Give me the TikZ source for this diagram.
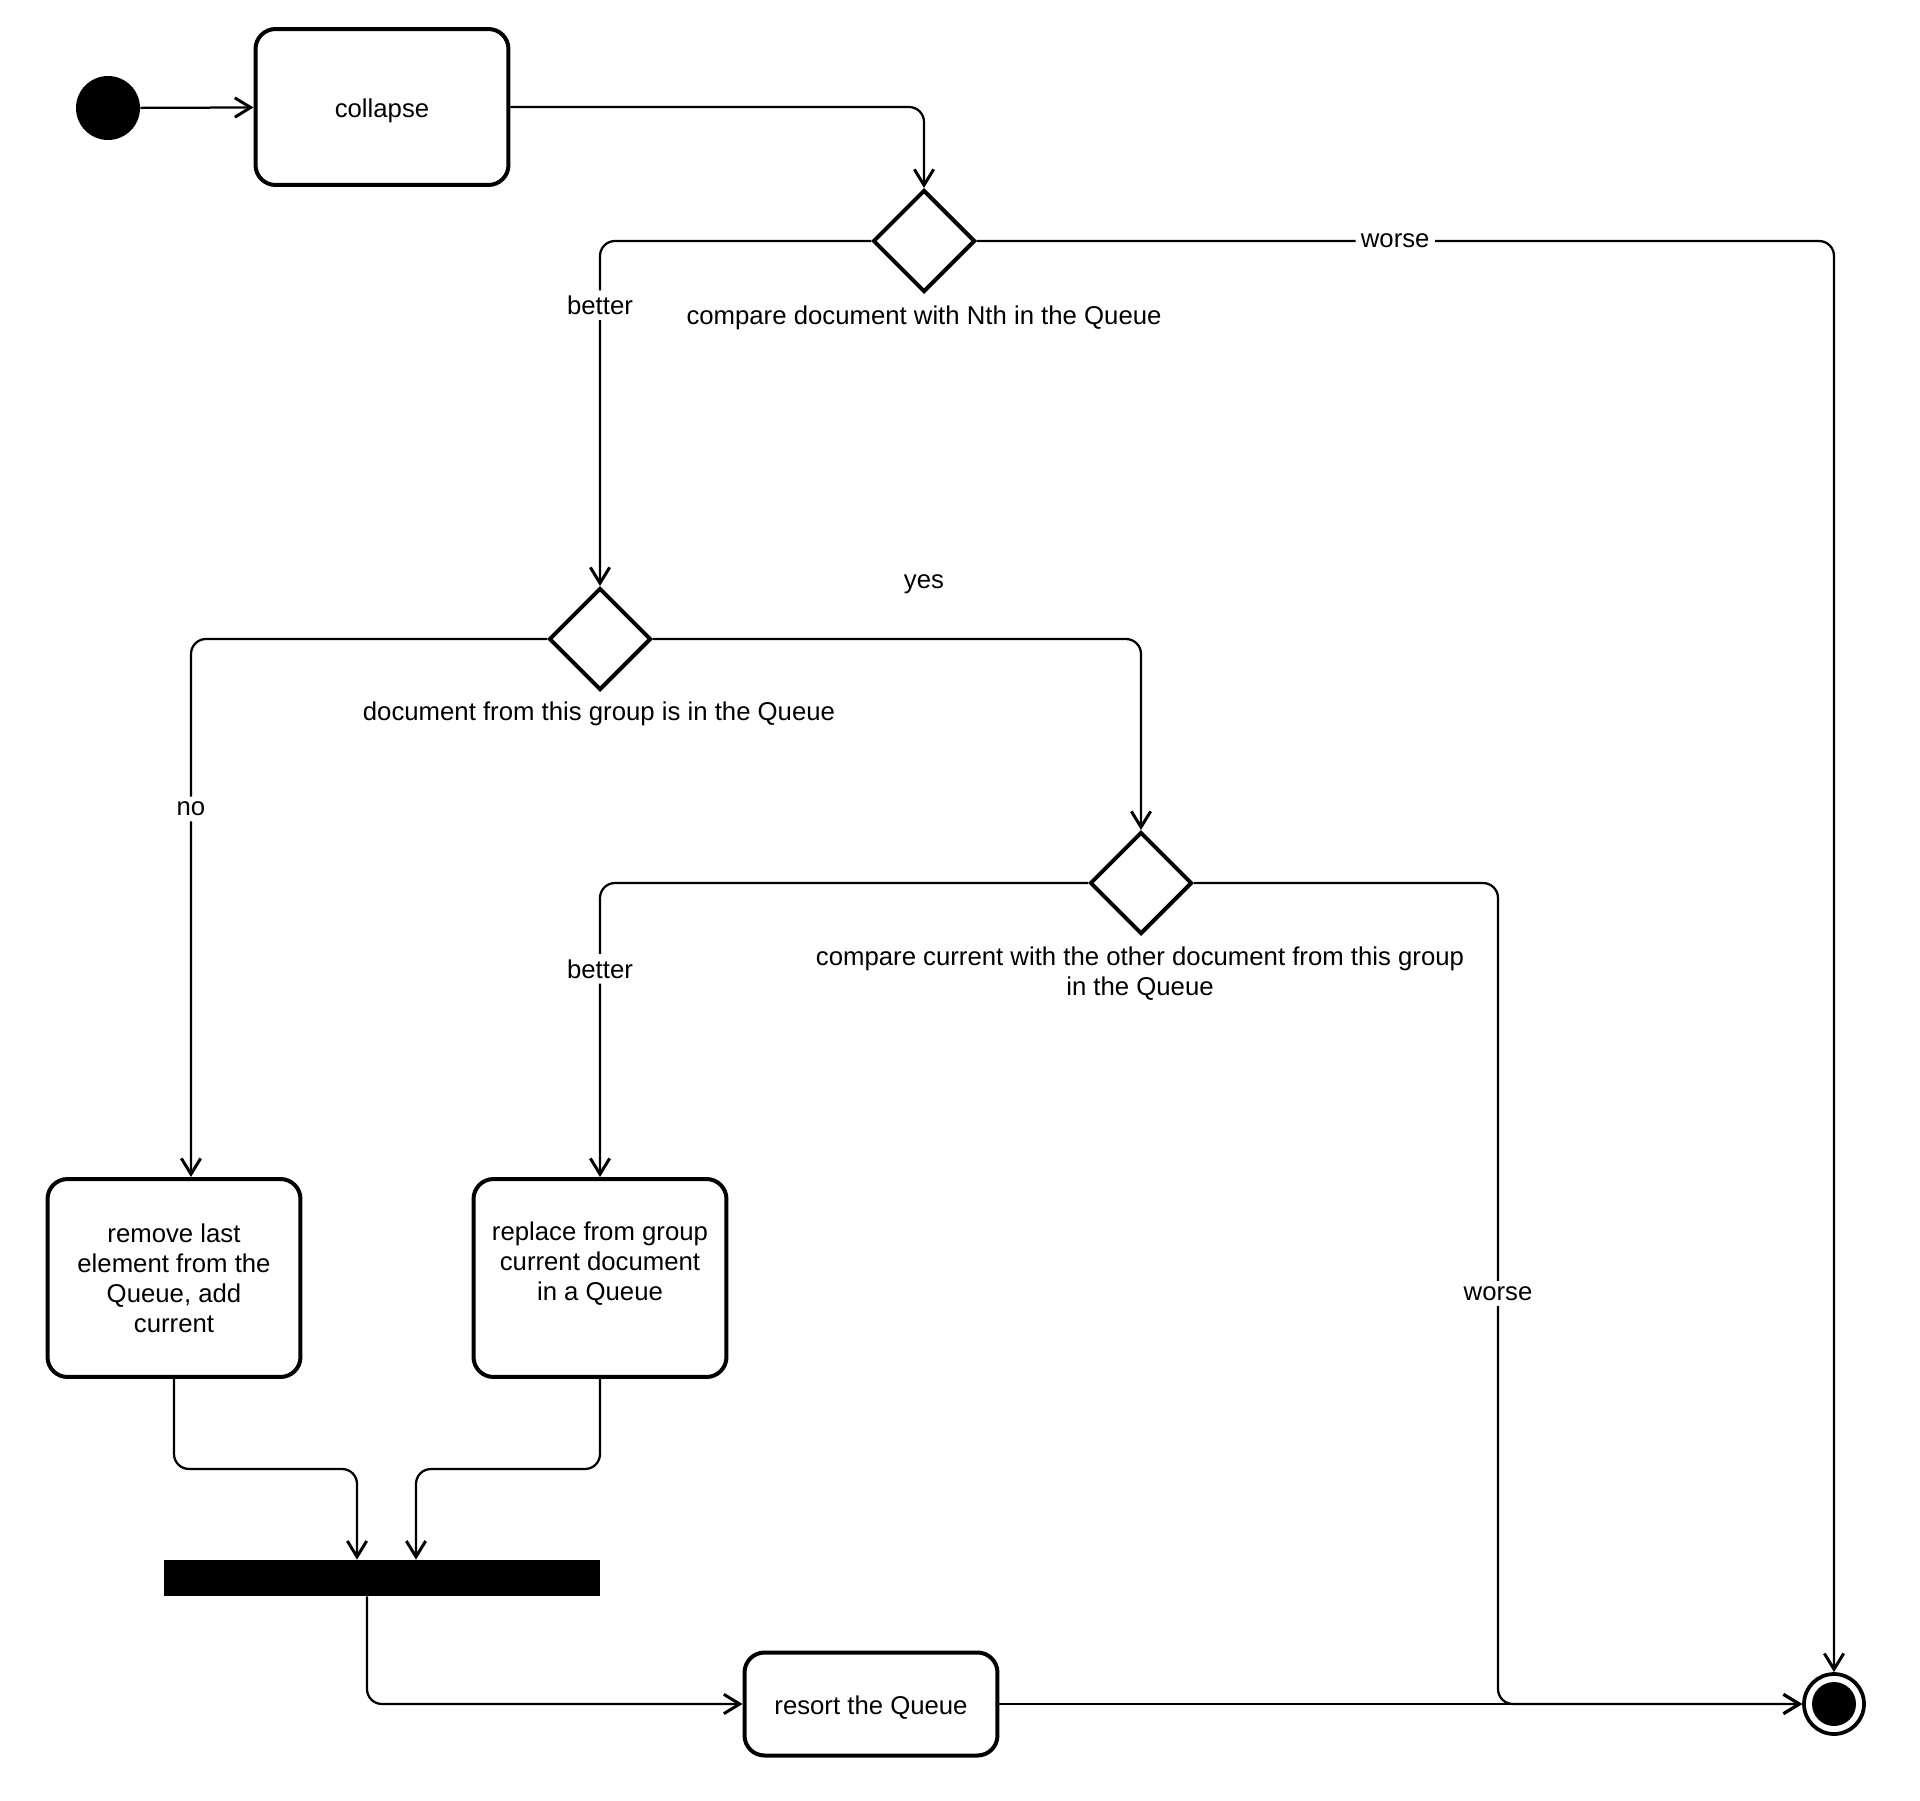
\documentclass[tikz,border=0pt]{standalone}
\usepackage{fontspec}
\setmainfont{Liberation Sans}
\usetikzlibrary{shapes.geometric, arrows.meta, positioning, calc}

\begin{document}
\begin{tikzpicture}[x=0.02cm, y=-0.02cm,
  font=\fontsize{14.65}{17.1}\selectfont,
  act/.style={draw, rounded corners=0.4cm, line width=0.08cm, minimum width=5.06cm, align=center},
  choice/.style={diamond, draw, line width=0.08cm, minimum width=2.04cm, minimum height=2.04cm, inner sep=0pt},
  flow/.style={line width=0.045cm, rounded corners=0.3cm, -{Straight Barb[length=9pt, width=11pt, line width=1.7pt]}},
  lbl/.style={fill=white, inner sep=3pt}]
  \useasboundingbox (0,0) rectangle (1920,1801);
  % --- start / end ---
  \node[circle, fill=black, minimum size=1.28cm, inner sep=0pt] (init) at (108,108) {};
  \node[circle, draw, line width=0.075cm, minimum size=1.2cm, inner sep=0pt,
    path picture={\fill (path picture bounding box.center) circle (0.44cm);}] (final) at (1834,1704) {};
  % --- activities ---
  \node[act, minimum height=3.12cm, text height=14.5pt, text depth=2pt] (collapse) at (382,107) {collapse};
  \node[act, minimum height=3.96cm] (remove) at (174,1278) {remove last\\element from the\\Queue, add\\current};
  \node[act, minimum height=3.96cm, text depth=19pt] (replace) at (600,1278) {replace from group\\current document\\in a Queue};
  \node[act, minimum height=2.06cm, text height=14pt, text depth=1.5pt] (resort) at (871,1704) {resort the Queue};
  \node[fill=black, minimum width=8.72cm, minimum height=0.72cm, inner sep=0pt] (bar) at (382,1578) {};
  % --- decisions ---
  \node[choice] (d1) at (924,241) {};
  \node[choice] (d2) at (600,639) {};
  \node[choice] (d3) at (1141,883) {};
  \node (d1txt) at (924,318) {compare document with Nth in the Queue};
  \node (d2txt) at (599,714) {document from this group is in the Queue};
  \node[align=center] (d3txt) at (1140,974) {compare current with the other document from this group\\in the Queue};
  \node (yes) at (924,584) {yes};
  % --- flows ---
  \draw[flow] (init) -- (collapse);
  \draw[flow] (collapse.east) -| (d1.north);
  \draw[flow] (d1.west) -| node[lbl, pos=0.593] {better} (d2.north);
  \draw[flow] (d1.east) -| node[lbl, pos=0.244] {worse} (final.north);
  \draw[flow] (d2.west) -| node[lbl, pos=0.658] {no} ([xshift=0.34cm]remove.north);
  \draw[flow] (d2.east) -| (d3.north);
  \draw[flow] (d3.west) -| node[lbl, pos=0.646] {better} (replace.north);
  \coordinate (wcorner) at (1498,1704);
  \draw[flow] (d3.east) -| node[lbl, pos=0.75] {worse} (wcorner) -- (final.west);
  % --- join ---
  \draw[flow] (remove.south) -- ++(0,90) -| ([xshift=-0.5cm]bar.north);
  \draw[flow] (replace.south) -- ++(0,90) -| ([xshift=0.68cm]bar.north);
  \draw[flow] ([xshift=-0.3cm]bar.south) |- (resort.west);
  \draw[flow] (resort.east) -- (final.west);
\end{tikzpicture}
\end{document}
